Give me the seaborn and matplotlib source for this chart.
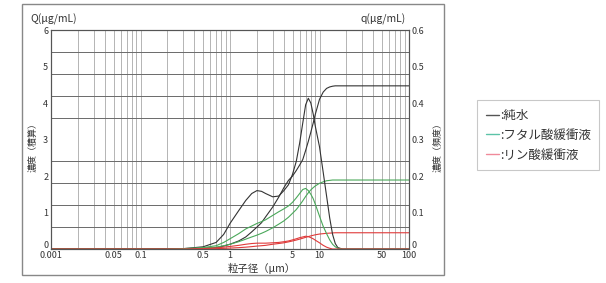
import numpy as np
import pandas as pd
import matplotlib
matplotlib.use("Agg")
import matplotlib.pyplot as plt
from matplotlib.ticker import LogLocator, FixedLocator, NullFormatter
from matplotlib.lines import Line2D
from matplotlib.patches import Rectangle
import matplotlib.transforms as mtransforms
import seaborn as sns

sns.set_style("white")
plt.rcParams['font.family'] = ['Noto Sans CJK JP', 'DejaVu Sans']

# ---- data ----
size_um = [0.01, 0.2, 0.3, 0.5, 0.7, 0.85, 1.0, 1.25, 1.5, 1.75, 2.0, 2.25, 2.5, 3.0, 3.5,
           4.0, 4.5, 5.0, 5.5, 6.0, 6.5, 7.0, 7.5, 8.0, 8.5, 9.0, 10, 11, 12, 13, 14, 15,
           16, 18, 20, 100]

water_q = [0, 0, 0.001, 0.006, 0.018, 0.04, 0.07, 0.105, 0.133, 0.152, 0.160, 0.158, 0.152,
           0.143, 0.145, 0.160, 0.176, 0.205, 0.240, 0.290, 0.345, 0.395, 0.413, 0.400, 0.370,
           0.335, 0.280, 0.210, 0.145, 0.085, 0.040, 0.015, 0.004, 0, 0, 0]
water_Q = [0, 0, 0.005, 0.02, 0.04, 0.08, 0.13, 0.22, 0.33, 0.47, 0.60, 0.72, 0.88, 1.15, 1.42,
           1.68, 1.88, 2.00, 2.15, 2.30, 2.45, 2.70, 2.95, 3.20, 3.45, 3.70, 4.10, 4.30, 4.40,
           4.44, 4.46, 4.47, 4.47, 4.47, 4.47, 4.47]

phthal_q = [0, 0, 0.001, 0.004, 0.009, 0.018, 0.028, 0.042, 0.055, 0.063, 0.070, 0.075, 0.080,
            0.092, 0.102, 0.110, 0.118, 0.128, 0.140, 0.152, 0.163, 0.166, 0.160, 0.150, 0.138,
            0.122, 0.090, 0.062, 0.042, 0.025, 0.013, 0.006, 0.002, 0, 0, 0]
phthal_Q = [0, 0, 0.005, 0.02, 0.05, 0.09, 0.13, 0.20, 0.27, 0.33, 0.38, 0.43, 0.48, 0.58, 0.68,
            0.77, 0.87, 0.98, 1.08, 1.20, 1.32, 1.44, 1.54, 1.62, 1.68, 1.73, 1.80, 1.84, 1.87,
            1.88, 1.89, 1.89, 1.89, 1.89, 1.89, 1.89]

phos_q = [0, 0, 0, 0.001, 0.003, 0.005, 0.007, 0.010, 0.013, 0.015, 0.016, 0.016, 0.016, 0.017,
          0.018, 0.020, 0.022, 0.025, 0.028, 0.031, 0.033, 0.035, 0.034, 0.031, 0.028, 0.024,
          0.017, 0.010, 0.005, 0.002, 0, 0, 0, 0, 0, 0]
phos_Q = [0, 0, 0, 0.005, 0.01, 0.017, 0.025, 0.037, 0.05, 0.065, 0.08, 0.09, 0.10, 0.13, 0.15,
          0.17, 0.195, 0.22, 0.245, 0.27, 0.295, 0.32, 0.34, 0.36, 0.375, 0.39, 0.41, 0.42, 0.43,
          0.435, 0.44, 0.445, 0.445, 0.445, 0.445, 0.445]

series_labels = [":純水", ":フタル酸緩衝液", ":リン酸緩衝液"]
x_tick_vals = [0.01, 0.05, 0.1, 0.5, 1, 5, 10, 50, 100]
x_tick_labels = ["0.001", "0.05", "0.1", "0.5", "1", "5", "10", "50", "100"]
left_ticks = [0, 1, 2, 3, 4, 5, 6]
right_ticks = [0, 0.1, 0.2, 0.3, 0.4, 0.5, 0.6]
right_tick_labels = ["0", "0.1", "0.2", "0.3", "0.4", "0.5", "0.6"]

c_black = "#333333"
c_green = "#4aa85a"
c_red = "#e03a3a"
leg_colors = ["#555555", "#5cc3a8", "#f08a9a"]

fig = plt.figure(figsize=(6.06, 2.83), dpi=100)
ax = fig.add_axes([51/606, 1-249/283, (409-51)/606, (249-30)/283])
ax2 = ax.twinx()

ax.set_xscale("log")
ax.set_xlim(0.01, 100)
ax.set_ylim(0, 6)
ax2.set_ylim(0, 0.6)

# grid
ax.xaxis.set_minor_locator(LogLocator(base=10, subs=np.arange(2, 10)))
ax.xaxis.set_minor_formatter(NullFormatter())
ax.yaxis.set_minor_locator(FixedLocator([0.6 * k for k in range(1, 10)]))
ax.grid(which="both", axis="x", color="#a8a8a8", lw=0.6)
ax.grid(which="minor", axis="y", color="#6a6a6a", lw=0.7)
ax.grid(which="major", axis="y", visible=False)
ax.set_axisbelow(True)

lw = 0.8
sns.lineplot(x=size_um, y=water_Q, ax=ax, color=c_black, lw=lw, sort=False)
sns.lineplot(x=size_um, y=phthal_Q, ax=ax, color=c_green, lw=lw, sort=False)
sns.lineplot(x=size_um, y=phos_Q, ax=ax, color=c_red, lw=lw, sort=False)
sns.lineplot(x=size_um, y=water_q, ax=ax2, color=c_black, lw=lw, sort=False)
sns.lineplot(x=size_um, y=phthal_q, ax=ax2, color=c_green, lw=lw, sort=False)
sns.lineplot(x=size_um, y=phos_q, ax=ax2, color=c_red, lw=lw, sort=False)

ax.set_xticks(x_tick_vals)
ax.set_xticklabels(x_tick_labels)
ax.set_yticks(left_ticks)
ax.set_yticklabels([str(v) for v in left_ticks])
ax2.set_yticks(right_ticks)
ax2.set_yticklabels(right_tick_labels)
for a in (ax, ax2):
    a.tick_params(axis="both", which="both", length=0, labelsize=6.5, colors="#333333", pad=2)
ax.tick_params(axis="x", pad=1.5)

# lift the zero labels so they sit above the x tick labels, as in the reference
lift = mtransforms.ScaledTranslation(0, 3.5/72, fig.dpi_scale_trans)
for lab in (ax.get_yticklabels()[0], ax2.get_yticklabels()[0]):
    lab.set_transform(lab.get_transform() + lift)

for a in (ax, ax2):
    for s in a.spines.values():
        s.set_color("#555555")
        s.set_linewidth(0.8)

ax.set_xlabel("粒子径（μm）", fontsize=7.5, color="#333333")
ax.xaxis.set_label_coords((262-51)/(409-51), -0.065)
ax.set_ylabel("")
ax2.set_ylabel("")

fig.text(30/606, 1-19/283, "Q(μg/mL)", fontsize=7.5, color="#333333", va="center", ha="left")
fig.text(406/606, 1-19/283, "q(μg/mL)", fontsize=7.5, color="#333333", va="center", ha="right")
fig.text(33/606, 1-145/283, "濃度（積算）", fontsize=6.5, color="#333333", rotation=90,
         va="center", ha="center")
fig.text(437/606, 1-145/283, "濃度（頻度）", fontsize=6.5, color="#333333", rotation=90,
         va="center", ha="center")

# outer frame
fig.patches.append(Rectangle((22/606, 1-275/283), (444-22)/606, (275-4)/283,
                             transform=fig.transFigure, fill=False, edgecolor="#888888", lw=1.0))

handles = [Line2D([0], [0], color=c, lw=1.0) for c in leg_colors]
leg = fig.legend(handles, series_labels, loc="upper left",
                 bbox_to_anchor=(471/606, 1-94/283), fontsize=9, handlelength=1.0,
                 handletextpad=0.1, frameon=True, fancybox=False, borderpad=0.7,
                 labelspacing=0.55, labelcolor="#333333")
leg.get_frame().set_edgecolor("#bbbbbb")
leg.get_frame().set_linewidth(0.8)

fig.savefig("out.png", dpi=100)
